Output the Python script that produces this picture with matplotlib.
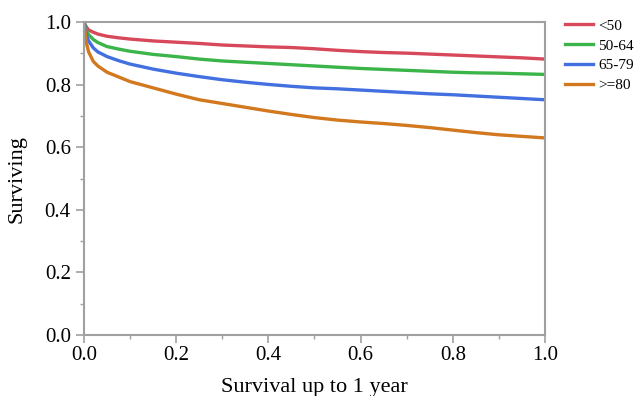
import matplotlib
matplotlib.use("Agg")
import matplotlib.pyplot as plt
from matplotlib.ticker import MultipleLocator

plt.rcParams['font.family'] = ['Liberation Serif', 'DejaVu Serif']

# Survival curves
t = [0.0, 0.005, 0.01, 0.02, 0.03, 0.05, 0.075, 0.1, 0.15, 0.2, 0.25, 0.3, 0.35,
     0.4, 0.45, 0.5, 0.55, 0.6, 0.65, 0.7, 0.75, 0.8, 0.85, 0.9, 0.95, 1.0]
under50 = [1.0, 0.985, 0.975, 0.968, 0.962, 0.955, 0.95, 0.946, 0.94, 0.936, 0.932,
           0.927, 0.924, 0.921, 0.919, 0.915, 0.91, 0.906, 0.903, 0.901, 0.898,
           0.895, 0.892, 0.889, 0.886, 0.882]
age50_64 = [1.0, 0.975, 0.96, 0.945, 0.935, 0.922, 0.914, 0.907, 0.897, 0.89, 0.882,
            0.876, 0.872, 0.868, 0.864, 0.86, 0.856, 0.852, 0.849, 0.846, 0.843,
            0.84, 0.838, 0.837, 0.835, 0.833]
age65_79 = [1.0, 0.96, 0.94, 0.918, 0.905, 0.89, 0.877, 0.866, 0.85, 0.837, 0.826,
            0.816, 0.808, 0.801, 0.795, 0.79, 0.787, 0.783, 0.779, 0.775, 0.771,
            0.768, 0.764, 0.76, 0.756, 0.752]
age80 = [1.0, 0.935, 0.905, 0.875, 0.86, 0.84, 0.825, 0.81, 0.79, 0.77, 0.752,
         0.74, 0.728, 0.716, 0.705, 0.695, 0.687, 0.681, 0.676, 0.67, 0.663,
         0.655, 0.647, 0.64, 0.635, 0.63]

labels = ['<50', '50-64', '65-79', '>=80']
colors = ['#d8485b', '#3bb44a', '#4270e0', '#d2781f']

fig = plt.figure(figsize=(6.34, 3.96), dpi=100)
ax = fig.add_axes([0.1325, 0.154, 0.7271, 0.79])

for y, lab, c in zip([under50, age50_64, age65_79, age80], labels, colors):
    ax.plot(t, y, color=c, lw=2.4, label=lab)

ax.set_xlim(0, 1)
ax.set_ylim(0, 1)
ax.xaxis.set_major_locator(MultipleLocator(0.2))
ax.xaxis.set_minor_locator(MultipleLocator(0.1))
ax.yaxis.set_major_locator(MultipleLocator(0.2))
ax.yaxis.set_minor_locator(MultipleLocator(0.1))
ax.xaxis.set_major_formatter(lambda v, p: f'{v:.1f}')
ax.yaxis.set_major_formatter(lambda v, p: f'{v:.1f}')

for s in ax.spines.values():
    s.set_color('#a0a0a0')
    s.set_linewidth(1.5)
ax.tick_params(which='both', direction='out', color='#a0a0a0', labelsize=15,
               labelcolor='black')
ax.tick_params(which='major', length=6, width=1.2)
ax.tick_params(which='minor', length=3, width=1.0)
ax.tick_params(axis='x', pad=2)

ax.set_xlabel('Survival up to 1 year', fontsize=16)
ax.set_ylabel('Surviving', fontsize=16)
ax.xaxis.set_label_coords(0.5, -0.137)
ax.yaxis.set_label_coords(-0.124, 0.5)

fig.legend(loc='upper left', bbox_to_anchor=(0.891, 0.952), frameon=False,
           fontsize=11, handlelength=1.85, handletextpad=0.33,
           labelspacing=0.4, borderaxespad=0, borderpad=0)

fig.savefig('out.png', dpi=100)
